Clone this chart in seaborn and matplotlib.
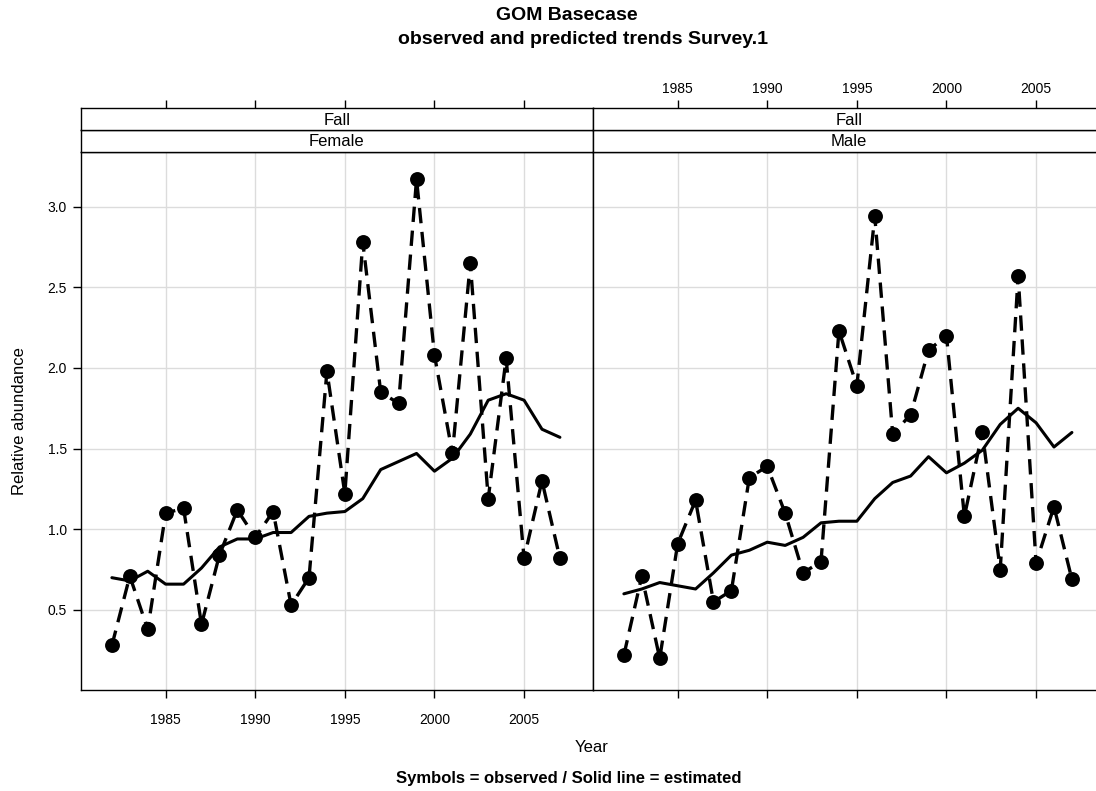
import numpy as np
import pandas as pd
import seaborn as sns
import matplotlib.pyplot as plt

## Data: =======================================================================
years = list(range(1982, 2008))

female_obs = [0.28, 0.71, 0.38, 1.10, 1.13, 0.41, 0.84, 1.12, 0.95, 1.11, 0.53, 0.70, 1.98,
              1.22, 2.78, 1.85, 1.78, 3.17, 2.08, 1.47, 2.65, 1.19, 2.06, 0.82, 1.30, 0.82]
female_est = [0.70, 0.68, 0.74, 0.66, 0.66, 0.76, 0.89, 0.94, 0.94, 0.98, 0.98, 1.08, 1.10,
              1.11, 1.19, 1.37, 1.42, 1.47, 1.36, 1.44, 1.59, 1.80, 1.84, 1.80, 1.62, 1.57]
male_obs = [0.22, 0.71, 0.20, 0.91, 1.18, 0.55, 0.62, 1.32, 1.39, 1.10, 0.73, 0.80, 2.23,
            1.89, 2.94, 1.59, 1.71, 2.11, 2.20, 1.08, 1.60, 0.75, 2.57, 0.79, 1.14, 0.69]
male_est = [0.60, 0.63, 0.67, 0.65, 0.63, 0.73, 0.84, 0.87, 0.92, 0.90, 0.95, 1.04, 1.05,
            1.05, 1.19, 1.29, 1.33, 1.45, 1.35, 1.41, 1.49, 1.65, 1.75, 1.66, 1.51, 1.60]

season = "Fall"
sexes = ["Female", "Male"]
x_ticks = [1985, 1990, 1995, 2000, 2005]
y_ticks = [0.5, 1.0, 1.5, 2.0, 2.5, 3.0]

df = pd.DataFrame({
    "year": years * 2,
    "sex": ["Female"] * len(years) + ["Male"] * len(years),
    "obs": female_obs + male_obs,
    "est": female_est + male_est,
})

## Layout (pixels of a 1096x791 canvas): ========================================
W, H = 1096, 791
xlim = (1980.26, 2008.83)
ylim = (0.004, 3.34)
panel_left = [80.7, 592.7]
panel_w = 512.0
panel_top, panel_bot = 151.7, 690.0
strip_h = 21.7

sns.set_style("white")
plt.rcParams['font.family'] = ['Liberation Sans', 'DejaVu Sans']
plt.rcParams.update({"text.color": "black", "axes.labelcolor": "black",
                     "xtick.color": "black", "ytick.color": "black"})

fig = plt.figure(figsize=(W / 100, H / 100), dpi=100)

def fbox(x0, y_top, w, h):
    return [x0 / W, 1 - (y_top + h) / H, w / W, h / H]

grid_col = "#dcdcdc"
dash = (0, (4.6, 2.6))

for i, sex in enumerate(sexes):
    sub = df[df["sex"] == sex]
    ax = fig.add_axes(fbox(panel_left[i], panel_top, panel_w, panel_bot - panel_top))
    for x in x_ticks:
        ax.axvline(x, color=grid_col, lw=1.0, zorder=0)
    for y in y_ticks:
        ax.axhline(y, color=grid_col, lw=1.0, zorder=0)

    sns.scatterplot(data=sub, x="year", y="obs", ax=ax, color="black", s=115,
                    edgecolor="black", linewidth=0, zorder=3, legend=False)
    sns.lineplot(data=sub, x="year", y="obs", ax=ax, color="black", lw=2.4,
                 linestyle=dash, estimator=None, sort=False, zorder=4)
    sns.lineplot(data=sub, x="year", y="est", ax=ax, color="black", lw=2.2,
                 estimator=None, sort=False, zorder=5)

    ax.set_xlim(xlim)
    ax.set_ylim(ylim)
    ax.set_xticks(x_ticks)
    ax.set_yticks(y_ticks)
    ax.set_xlabel("")
    ax.set_ylabel("")
    for sp in ax.spines.values():
        sp.set_color("black")
        sp.set_linewidth(1.0)
    ax.tick_params(axis="x", direction="out", length=5.8, width=1.0, colors="black",
                   bottom=True, labelbottom=(i == 0), pad=11, labelsize=10)
    ax.tick_params(axis="y", direction="out", length=5.8, width=1.0, colors="black",
                   left=(i == 0), labelleft=(i == 0), pad=4, labelsize=10)
    ax.set_yticklabels(["{:.1f}".format(v) for v in y_ticks])

    # strips: sex (lower) and season (upper)
    for k, (lab, ytop) in enumerate([(sex, panel_top - strip_h), (season, panel_top - 2 * strip_h)]):
        sax = fig.add_axes(fbox(panel_left[i], ytop, panel_w, strip_h))
        sax.set_facecolor("white")
        sax.set_xlim(xlim)
        sax.set_yticks([])
        for sp in sax.spines.values():
            sp.set_color("black")
            sp.set_linewidth(1.0)
        sax.text(0.5, 0.45, lab, transform=sax.transAxes, ha="center", va="center", fontsize=12)
        if k == 1:
            sax.set_xticks(x_ticks)
            sax.tick_params(axis="x", direction="out", length=5.8, width=1.0, colors="black",
                            bottom=False, labelbottom=False, top=True, labeltop=(i == 1),
                            pad=3, labelsize=10)
        else:
            sax.set_xticks([])

fig.text(567 / W, 1 - 16 / H, "GOM Basecase", ha="center", va="center",
         fontsize=14, fontweight="bold")
fig.text(583.5 / W, 1 - 39 / H, "observed and predicted trends Survey.1", ha="center",
         va="center", fontsize=14, fontweight="bold")
fig.text(592 / W, 1 - 747 / H, "Year", ha="center", va="center", fontsize=12)
fig.text(20 / W, 1 - 421 / H, "Relative abundance", ha="center", va="center",
         rotation=90, fontsize=12)
fig.text(569 / W, 1 - 779 / H, "Symbols = observed / Solid line = estimated",
         ha="center", va="center", fontsize=12, fontweight="bold")

fig.savefig("out.png", dpi=100)
